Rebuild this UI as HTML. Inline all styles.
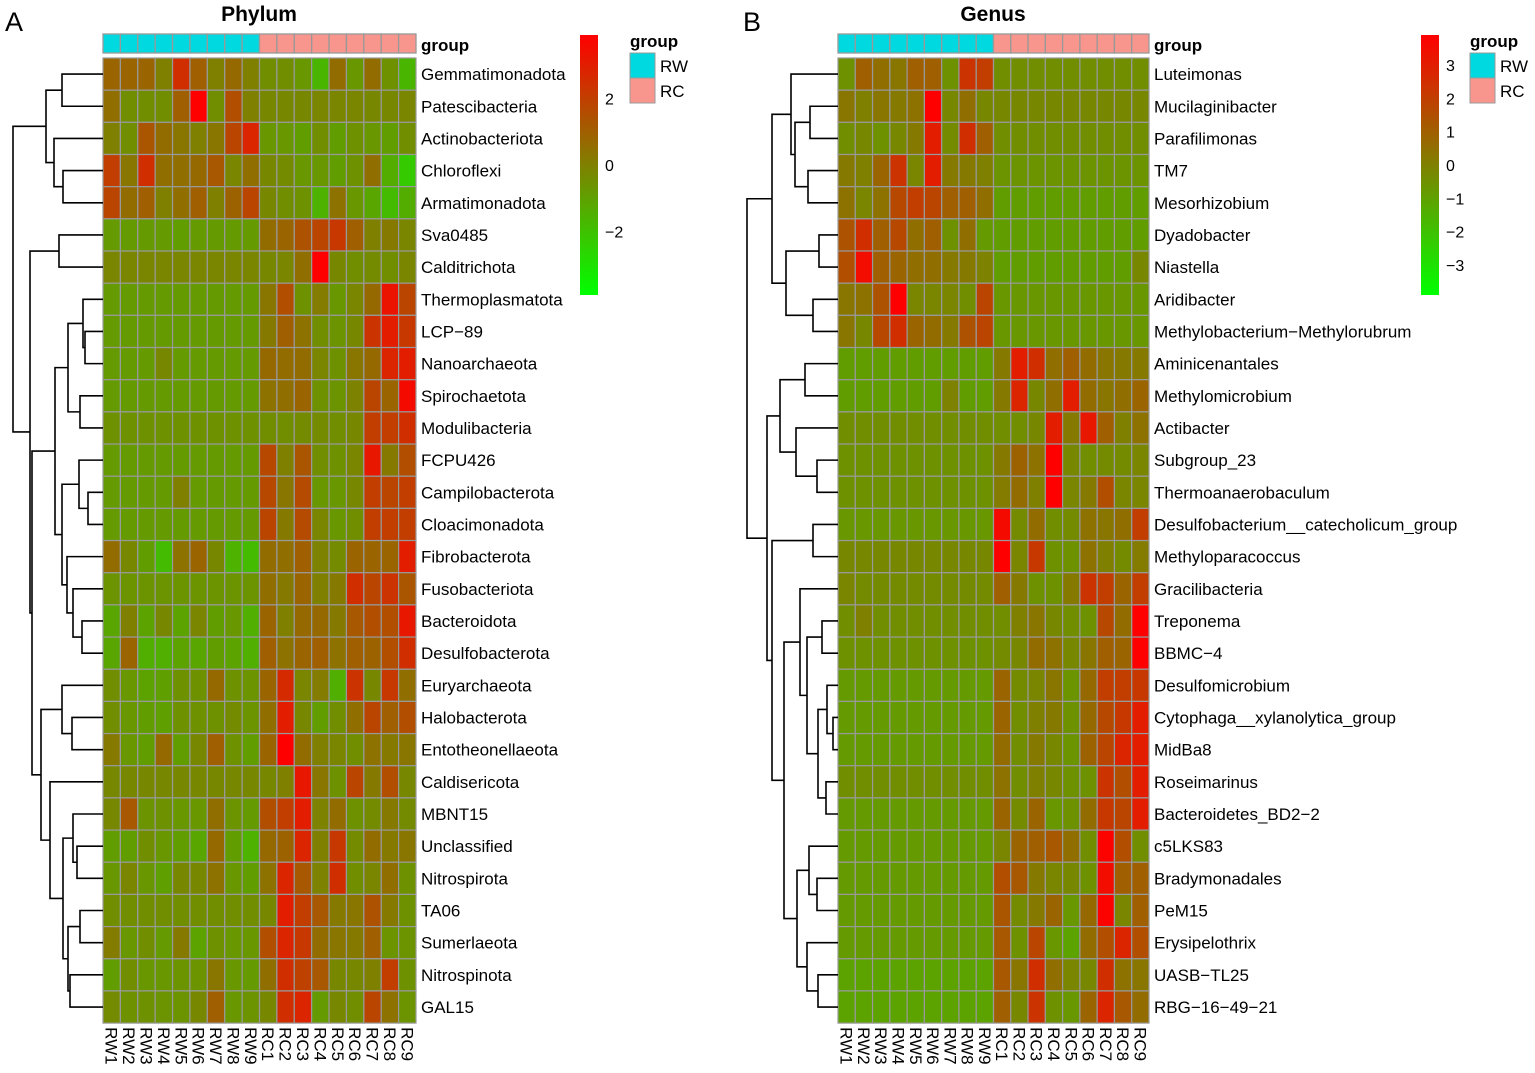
<!DOCTYPE html>
<html><head><meta charset="utf-8"><style>
body{margin:0;background:#fff;}
svg{display:block;font-family:"Liberation Sans",Arial,sans-serif;}
</style></head><body>
<svg id="chart" width="1535" height="1073" viewBox="0 0 1535 1073" xmlns="http://www.w3.org/2000/svg">
<defs>
<linearGradient id="cbar" x1="0" y1="1" x2="0" y2="0">
<stop offset="0" stop-color="rgb(0,255,0)"/><stop offset="0.5" stop-color="rgb(128,128,0)"/><stop offset="1" stop-color="rgb(255,0,0)"/>
</linearGradient></defs>
<text x="5" y="31" font-size="27">A</text>
<text x="743" y="31" font-size="27">B</text>
<text x="259" y="21" font-size="21" font-weight="bold" text-anchor="middle">Phylum</text>
<text x="993" y="21" font-size="21" font-weight="bold" text-anchor="middle">Genus</text>
</svg>
<script>
const cols=["RW1","RW2","RW3","RW4","RW5","RW6","RW7","RW8","RW9","RC1","RC2","RC3","RC4","RC5","RC6","RC7","RC8","RC9"];
const groups=["RW","RW","RW","RW","RW","RW","RW","RW","RW","RC","RC","RC","RC","RC","RC","RC","RC","RC"];
const rowsA=["Gemmatimonadota","Patescibacteria","Actinobacteriota","Chloroflexi","Armatimonadota","Sva0485","Calditrichota","Thermoplasmatota","LCP\u221289","Nanoarchaeota","Spirochaetota","Modulibacteria","FCPU426","Campilobacterota","Cloacimonadota","Fibrobacterota","Fusobacteriota","Bacteroidota","Desulfobacterota","Euryarchaeota","Halobacterota","Entotheonellaeota","Caldisericota","MBNT15","Unclassified","Nitrospirota","TA06","Sumerlaeota","Nitrospinota","GAL15"];
const valsA=[
[0.8,0.8,0.8,0,2.5,1,0,0.7,0,-0.5,-0.5,-0.8,-1.8,0.6,-0.8,0.6,-0.6,-1.8],
[0.5,-0.5,-0.5,-0.5,1,3.9,-0.5,1.5,0,-0.3,-0.3,-0.3,-0.2,-0.2,-0.2,-0.3,-0.3,-0.2],
[0,-0.5,1.3,0.6,0.3,0,0.3,1.8,2.8,-0.8,-0.8,-1,-0.5,-1,-0.6,-0.8,-1,-0.5],
[2,0.3,2.5,0.5,0.5,0.7,1.2,-0.2,0.5,-0.3,-0.4,-0.8,-0.8,-1,-0.6,0.5,-1.5,-2.5],
[1.8,0.6,1,0,0.5,1,0,0.9,1.8,-0.3,-0.5,-0.6,-1.7,0.4,-0.8,-1.3,-2,-1.5],
[-0.9,-0.9,-0.9,-0.9,-1,-0.9,-0.9,-0.9,-0.9,0.6,0.8,1.4,1.8,2.2,1,0,0.2,-0.2],
[-0.2,-0.2,-0.2,-0.2,-0.2,-0.2,-0.2,-0.2,-0.2,-0.3,-0.2,0.5,3.9,-0.3,-0.5,-0.4,-0.5,-0.2],
[-0.9,-0.9,-0.9,-0.9,-0.9,-0.9,-0.9,-0.9,-0.9,0.3,1.5,-0.6,0.1,-0.8,-0.2,0.7,3.3,1.8],
[-0.9,-0.9,-0.9,-0.9,-0.9,-0.9,-0.9,-0.9,-0.9,0.2,1,0.4,-0.5,-0.7,-0.3,2.3,3,2.2],
[-0.9,-0.9,-0.9,-0.3,-0.9,-0.9,-0.9,-0.9,-0.9,0.7,0.6,0.6,-0.2,-0.6,0.3,0.7,2.8,3],
[-0.9,-0.9,-0.9,-0.9,-0.9,-0.9,-0.9,-0.9,-0.9,0.4,0.5,0.8,-0.6,-0.7,-0.1,1.8,0.8,3.6],
[-0.6,-0.6,-0.6,-0.6,-0.6,-0.6,-0.6,-0.6,-0.6,-0.5,-0.5,-0.4,-0.4,-0.5,-0.3,2,2,2.5],
[-0.9,-0.9,-0.9,-0.9,-0.9,-0.9,-0.9,-0.9,-0.9,1.7,0,1.3,-0.5,-0.6,-0.2,3.2,0.2,1.5],
[-0.9,-0.9,-0.9,-0.9,0,-0.9,-0.9,-0.9,-0.9,1.7,0.3,1.6,-0.8,-0.8,-0.3,2,1.8,2],
[-0.9,-0.9,-0.9,-0.9,-0.9,-0.9,-0.9,-0.9,-0.9,1.8,0.2,1.6,-0.2,-0.8,-0.5,2,2,2],
[0.6,-0.3,-1,-2,0.4,0.8,-0.3,-1.7,-2,0.6,0.5,1,-0.1,-0.4,0.8,0.8,0.8,3],
[-0.7,-0.7,-0.7,-0.7,-0.7,-0.7,-0.7,-0.7,-0.7,0.5,0.2,0.8,0,0.2,2.5,1.8,2.3,1.3],
[-1.3,0,-1.2,-0.3,-1.2,-0.2,-1,-0.8,-1.6,0.8,0,0.7,0.7,0.2,1.2,1.5,1.5,3.2],
[-1.3,0.8,-1.6,-1.6,-1.2,-1.3,-1,-1.2,-1.6,1,0.4,0.8,1,0.4,1,0.9,1.5,2.5],
[-0.5,-0.8,-1.2,-1.1,-0.6,-0.6,0.7,-0.6,-0.7,0.8,2.6,-0.2,0.1,-1.6,2.3,-0.3,2.2,0.5],
[-0.5,-0.8,-1,-1.1,-0.6,-0.6,-0.6,-0.4,-0.7,0.5,3,-0.3,-1,-0.5,0.5,1.8,1,1.5],
[0.2,-0.8,-1,0.7,-1,-0.3,1,-0.6,-1,0.8,3.9,0.6,0,-0.2,-0.5,0.4,0.2,0.3],
[-0.3,-0.3,-0.3,-0.3,-0.3,-0.3,-0.3,-0.3,-0.3,-0.3,0,3.2,0.3,-0.6,1.8,0.2,1.5,-0.3],
[-0.3,1.2,-0.7,-0.6,-0.8,-0.8,0.5,-0.7,-0.9,1.5,2,3,-0.1,0.6,-0.6,-0.4,0.2,-0.4],
[-1,-1,-0.5,-0.8,-1,-1.3,0.7,-1,-1.7,0.7,0.9,2.8,0,2.2,-0.4,0.6,0.2,0.3],
[-0.8,-0.2,-0.8,-1.1,-0.3,-0.3,0.4,-0.8,-1,0.4,2.8,1.2,-0.1,2.5,-0.5,-0.2,0.5,-0.6],
[-0.5,-0.5,-0.5,-0.5,-0.5,-0.5,-0.5,-0.5,-0.5,-0.3,3,2,1.2,0.2,0.3,1.4,0.2,-0.6],
[0.1,-0.8,-0.5,-0.9,0.2,-1.2,-0.6,-0.8,-0.8,1.5,2.8,2.2,0.6,0.3,0.2,1,-0.7,-0.7],
[-1,-0.5,-0.8,-0.8,-0.7,-0.7,0.3,-0.8,-0.9,0.5,2.5,1.9,1.2,-0.3,-0.3,0,2,-0.6],
[-0.4,-0.6,-0.6,-0.7,-0.7,-0.3,1,-0.8,-0.7,-0.3,2.5,2.8,-0.9,-0.3,-0.5,1.8,0.4,-0.7]];
const rowsB=["Luteimonas","Mucilaginibacter","Parafilimonas","TM7","Mesorhizobium","Dyadobacter","Niastella","Aridibacter","Methylobacterium\u2212Methylorubrum","Aminicenantales","Methylomicrobium","Actibacter","Subgroup_23","Thermoanaerobaculum","Desulfobacterium__catecholicum_group","Methyloparacoccus","Gracilibacteria","Treponema","BBMC\u22124","Desulfomicrobium","Cytophaga__xylanolytica_group","MidBa8","Roseimarinus","Bacteroidetes_BD2\u22122","c5LKS83","Bradymonadales","PeM15","Erysipelothrix","UASB\u2212TL25","RBG\u221216\u221249\u221221"];
const valsB=[
[-0.6,1,0.5,0.3,1,1,-0.6,2.3,2,-0.5,-0.5,-0.5,-0.5,-0.5,-0.5,-0.5,-0.5,-0.5],
[0.3,0,0.3,0.2,0.4,3.9,-0.3,0.5,-0.3,-0.3,-0.3,-0.3,-0.3,-0.3,-0.3,-0.3,-0.3,-0.3],
[-0.5,-0.3,-0.6,-0.3,0.2,3,-0.4,2.5,1,-0.5,-0.5,-0.5,-0.5,-0.5,-0.5,-0.5,-0.5,-0.5],
[0.2,0,0.8,2.3,-0.2,3,0.2,0.2,0,-0.7,-0.7,-0.7,-0.7,-0.7,-0.7,-0.7,-0.7,-0.7],
[0.4,-0.2,0.4,1.7,2,1.8,1,1,0.5,-1,-1,-1,-1,-1,-1,-1,-1,-1],
[1.4,2.5,1,1.7,0.5,1,-0.6,0.5,-0.9,-1,-1,-1,-1,-1,-1,-1,-1,-1],
[1.5,3.5,1,0.8,0.5,0.5,0.2,0.2,-0.1,-1,-1,-1,-1,-1,-1,-1,-1,-0.3],
[0.3,0.4,1.4,3.9,-0.2,-0.2,-0.2,-0.5,1.8,-0.8,-0.8,-0.8,-0.8,-0.8,-0.8,-0.8,-0.8,-0.8],
[0.3,-0.3,1.7,2.5,0.8,0.6,0.2,1.4,1.8,-0.8,-0.8,-0.8,-0.8,-0.8,-0.8,-0.8,-0.8,-0.8],
[-1,-1,-1,-1,-1,-1,-1,-1,-1,0.2,3,2.5,0.5,1,0.6,0.3,0.2,0.2],
[-1,-1,-1,-1,-1,-1,-0.1,-1,-1,0.2,2.8,-0.3,0.5,3,0.6,0.3,0.5,0.8],
[-0.5,-0.5,-0.5,-0.5,-0.5,-0.5,-0.5,-0.5,-0.5,-0.5,-0.5,-0.3,3,0.2,3.2,1,0,0.4],
[-0.6,-0.6,-0.6,-0.6,-0.6,-0.6,-0.6,-0.6,-0.6,0.2,0.9,0.4,3.9,-0.3,-0.5,-0.4,-0.4,-0.2],
[-0.6,-0.6,-0.6,-0.6,-0.6,-0.6,-0.6,-0.6,-0.6,0.1,0.6,0,3.9,-0.2,0.2,1.5,-0.2,-0.2],
[-0.8,-0.8,-0.8,-0.8,-0.8,-0.8,-0.8,-0.8,-0.8,3.6,-0.4,0.6,-0.5,-0.4,0.4,0.3,0.5,2],
[-0.3,-0.3,-0.3,-0.3,-0.3,-0.3,-0.3,-0.3,-0.3,3.9,-0.2,2.2,-0.6,-0.6,0.4,0,-0.4,0.1],
[-0.2,-0.4,-0.4,-0.4,-0.4,-0.4,-0.4,-0.4,-0.4,1,0.2,-0.6,-0.6,0.2,2.3,2,0.8,2],
[-0.5,0,-0.5,-0.5,-0.5,-0.5,-0.5,-0.5,-0.5,-0.5,0,0.3,-0.3,-0.5,-0.6,1.7,0.6,3.9],
[-0.6,-0.6,-0.6,-0.6,-0.6,-0.6,-0.6,-0.6,-0.6,-0.4,-0.3,0.6,0.4,-0.3,0.3,1,0.8,3.9],
[-0.9,-0.9,-0.9,-0.9,-0.9,-0.9,-0.9,-0.9,-0.9,0.8,-0.4,-0.2,0.3,-0.7,0.7,2,2,2.2],
[-0.9,-0.9,-0.9,-0.9,-0.9,-0.9,-0.9,-0.9,-0.9,0.8,-0.5,0,0.2,-0.6,0.7,1.7,2.2,3],
[-0.9,-0.9,-0.9,-0.9,-0.9,-0.9,-0.9,-0.9,-0.9,0.6,-0.5,0.2,-0.3,-0.7,0.9,1.8,2.8,3],
[-0.5,-0.5,-0.5,-0.5,-0.5,-0.5,-0.5,-0.5,-0.5,0.4,-0.5,0,-0.3,-0.6,-0.6,2.3,1.5,3],
[-0.9,-0.9,-0.9,-0.9,-0.9,-0.9,-0.9,-0.9,-0.9,0.8,-0.4,0.8,-0.8,-0.6,0.6,2.2,1.8,3],
[-0.9,-0.9,-0.9,-0.9,-0.9,-0.9,-0.9,-0.9,-0.9,-0.2,0.8,1,1.2,0.5,-0.5,3.8,1.5,-0.5],
[-0.9,-0.9,-0.9,-0.9,-0.9,-0.9,-0.9,-0.9,-0.9,1.5,1.2,0.2,-0.2,-0.3,-0.6,3.5,1,1],
[-0.9,-0.9,-0.9,-0.9,-0.9,-0.9,-0.9,-0.9,-0.9,1.3,-0.4,0.2,0.8,-0.8,0.7,3.8,-0.2,1],
[-0.9,-0.9,-0.9,-0.9,-0.9,-0.9,-0.9,-0.9,-0.9,1.2,-0.6,1.8,-0.8,-1.2,0.6,1.5,2.8,1.5],
[-1.2,-1.2,-1.2,-1.2,-1.2,-1.2,-1.2,-1.2,-1.2,1.2,0.3,2.5,0.5,-0.2,-0.3,2.5,0.4,0.3],
[-1.2,-1.2,-1.2,-1.2,-1.2,-1.2,-1.2,-1.2,-1.2,1,-0.3,2.3,-0.6,-0.8,0.8,2.8,1.2,0.6]];
const ticksA=[2,0,-2];
const ticksB=[3,2,1,0,-1,-2,-3];
// dendrogram merges: [leftIndex, rightIndex, height]; leaves 0..29, internal nodes 30+
const treeA=[[0,1,62],[3,4,63],[2,31,54],[30,32,46],[5,6,59],[8,9,85],[7,35,83],[10,11,80],[36,37,68],[13,14,88],[12,39,79],[17,18,82],[16,41,73],[15,42,67],[40,43,62],[38,44,55],[20,21,72],[19,46,62],[24,25,77],[23,48,73],[26,27,80],[28,29,70],[50,51,68],[49,52,63],[22,53,50],[47,54,41],[45,55,32],[34,56,30],[33,57,13]];
const treeB=[[1,2,810],[3,4,808],[30,31,795],[0,32,791],[5,6,819],[7,8,813],[34,35,786],[33,36,772],[9,10,805],[12,13,817],[11,39,796],[38,40,780],[14,15,813],[17,18,822],[20,21,833],[19,44,827],[22,23,826],[45,46,818],[43,47,807],[16,48,800],[25,26,817],[24,50,809],[28,29,818],[27,52,807],[51,53,797],[49,54,784],[42,55,772],[41,56,767],[37,57,747]];

const NS="http://www.w3.org/2000/svg";
const svg=document.getElementById('chart');
function mk(tag,attrs,parent){const e=document.createElementNS(NS,tag);for(const k in attrs)e.setAttribute(k,attrs[k]);(parent||svg).appendChild(e);return e;}
const VMIN=-3.9,VMAX=3.9;
function color(v){let t=v>=0?0.5+0.5*v/VMAX:0.5+0.5*v/4.3;t=Math.max(0,Math.min(1,t));return `rgb(${Math.round(255*t)},${Math.round(255*(1-t))},0)`;}

function panel(id,x0,x1,rows,vals,tree,cbX,ticks,legX){
  const y0=58,rh=32.17,cw=(x1-x0)/cols.length;
  const g=mk('g',{});
  
  
  const yS=i=>y0+i*rh, xS=j=>x0+j*cw;
  cols.forEach((c,j)=>{
    const r=mk('rect',{x:xS(j),y:34,width:cw,height:19,fill:groups[j]==='RW'?'#00d9e0':'#f8968d',stroke:'#999','stroke-width':1.3},g);
    
    
  });
  const gl=mk('text',{x:x1+5,y:51,'font-size':17,'font-weight':'bold'},g);gl.textContent='group';
  
  
  vals.forEach((row,i)=>{
    row.forEach((v,j)=>{
      const r=mk('rect',{x:xS(j),y:yS(i),width:cw,height:rh,fill:color(v),stroke:'#999','stroke-width':1.2},g);
      
      
    });
    const t=mk('text',{x:x1+5,y:yS(i)+rh/2+6,'font-size':17},g);t.textContent=rows[i];
    
    
  });
  cols.forEach((c,j)=>{
    const cx=xS(j)+cw/2-6;
    const t=mk('text',{x:0,y:0,'font-size':17,transform:`translate(${cx},${yS(rows.length)+4}) rotate(90)`},g);t.textContent=c;
    
    
  });
  const nodes=[];for(let i=0;i<rows.length;i++)nodes.push({y:yS(i)+rh/2,x:x0});
  let d='';
  tree.forEach(([a,b,h])=>{
    const A=nodes[a],B=nodes[b];
    d+=`M${A.x},${A.y}H${h}V${B.y}H${B.x}`;
    nodes.push({x:h,y:(A.y+B.y)/2});
  });
  const p=mk('path',{d:d,fill:'none',stroke:'#000','stroke-width':1.6},g);
  
  
  const cb=mk('rect',{x:cbX,y:35,width:18,height:260,fill:'url(#cbar)'},g);
  
  
  ticks.forEach(tv=>{
    const ty=35+260*(VMAX-tv)/(VMAX-VMIN);
    const t=mk('text',{x:cbX+25,y:ty+6,'font-size':16},g);t.textContent=(tv<0?'\u2212'+(-tv):String(tv));
    
    
  });
  const lt=mk('text',{x:legX,y:47,'font-size':17,'font-weight':'bold'},g);lt.textContent='group';
  
  
  [['RW','#00d9e0',53],['RC','#f8968d',78]].forEach(([n,c,yy])=>{
    const r=mk('rect',{x:legX,y:yy,width:25,height:25,fill:c,stroke:'#999'},g);
    
    
    const t=mk('text',{x:legX+30,y:yy+19,'font-size':17},g);t.textContent=n;
    
    
  });
}
panel('phylum',103,416,rowsA,valsA,treeA,580,ticksA,630);
panel('genus',838,1149,rowsB,valsB,treeB,1421,ticksB,1470);
</script>
</body></html>
